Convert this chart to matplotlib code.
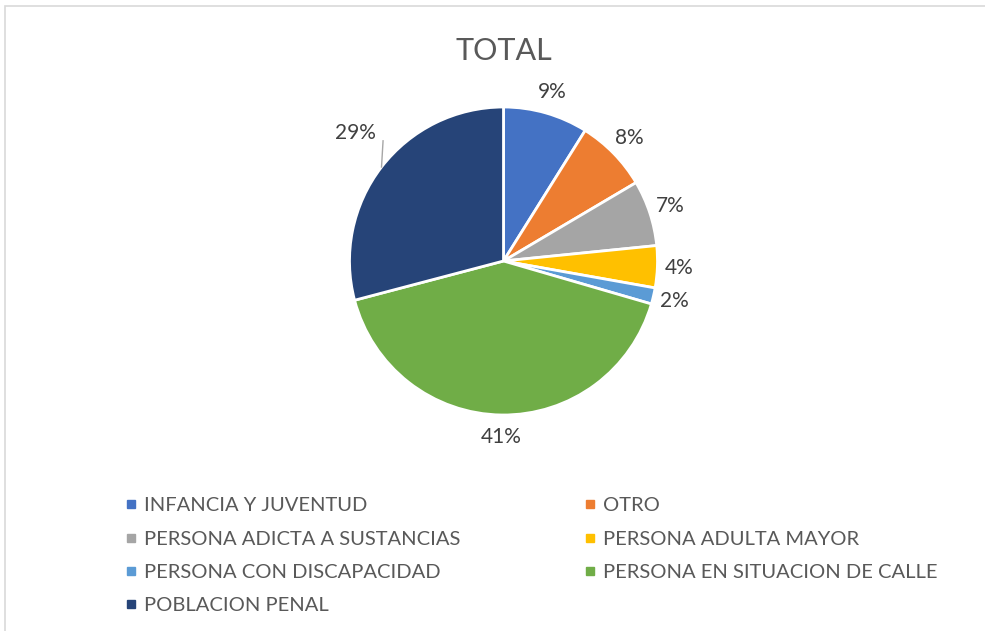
import numpy as np
import matplotlib.pyplot as plt
from matplotlib.lines import Line2D
from matplotlib.patches import Rectangle

categorias = ["INFANCIA Y JUVENTUD", "OTRO", "PERSONA ADICTA A SUSTANCIAS",
              "PERSONA ADULTA MAYOR", "PERSONA CON DISCAPACIDAD",
              "PERSONA EN SITUACION DE CALLE", "POBLACION PENAL"]
porcentajes = [8.9, 7.6, 6.9, 4.4, 1.7, 41.4, 29.1]
colores = ["#4472C4", "#ED7D31", "#A5A5A5", "#FFC000", "#5B9BD5", "#70AD47", "#264478"]

plt.rcParams['font.family'] = ['Lato', 'DejaVu Sans']

fig = plt.figure(figsize=(9.85, 6.31), dpi=100)

# marco gris claro del grafico
fig.patches.append(Rectangle((5 / 985, -0.1), 1.2, 1 - 6 / 631 + 0.1, transform=fig.transFigure,
                             fill=False, edgecolor="#D9D9D9", linewidth=1.2))

cx, cy, r = 503.5, 261, 154
ax = fig.add_axes([(cx - r) / 985, (631 - cy - r) / 631, 2 * r / 985, 2 * r / 631])

wedges, textos, pcts = ax.pie(porcentajes, colors=colores, startangle=90, counterclock=False,
                              autopct='%1.0f%%', pctdistance=1.14,
                              wedgeprops=dict(edgecolor="white", linewidth=2),
                              textprops=dict(color="#404040", fontsize=15))
ax.set_xlim(-1, 1)
ax.set_ylim(-1, 1)
ax.set_aspect("equal")

# etiqueta de POBLACION PENAL desplazada con linea guia
w = wedges[6]
ang = np.deg2rad((w.theta1 + w.theta2) / 2)
x0, y0 = np.cos(ang), np.sin(ang)
ax.plot([x0, x0 + 0.01], [y0, y0 + 0.17], color="#A6A6A6", lw=1, clip_on=False)
pcts[6].set_position((x0 - 0.17, y0 + 0.22))

fig.text(cx / 985, 1 - 51 / 631, "TOTAL", ha="center", va="center", fontsize=22, color="#595959")

orden = [0, 2, 4, 6, 1, 3, 5]
handles = [Line2D([], [], marker="s", linestyle="none", markersize=6,
                  color=colores[i]) for i in orden]
fig.legend(handles, [categorias[i] for i in orden], ncol=2, loc="upper left",
           bbox_to_anchor=(107 / 985, 1 - 479 / 631), frameon=False, fontsize=14.5,
           labelcolor="#595959", handlelength=0.6, handletextpad=0.35,
           labelspacing=0.81, columnspacing=6.1)

fig.savefig("out.png", dpi=100)
